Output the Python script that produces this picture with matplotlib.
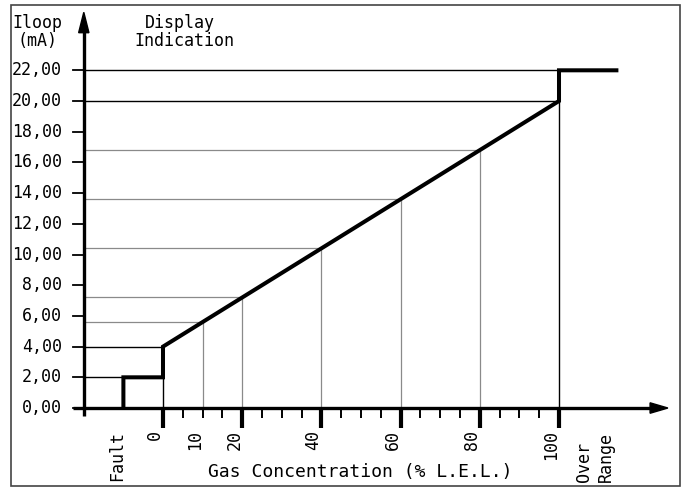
import matplotlib.pyplot as plt
from matplotlib.patches import Polygon, Rectangle

# transfer curve: gas concentration (% LEL) -> loop current (mA)
curve_pct = [-10, -10, 0, 0, 100, 100, 115]
curve_ma = [0, 2, 2, 4, 20, 22, 22]

# reference points on the linear part
ref_pct = [10, 20, 40, 60, 80]
ref_ma = [5.6, 7.2, 10.4, 13.6, 16.8]

y_ticks = [0, 2, 4, 6, 8, 10, 12, 14, 16, 18, 20, 22]
y_labels = ["0,00", "2,00", "4,00", "6,00", "8,00", "10,00", "12,00",
            "14,00", "16,00", "18,00", "20,00", "22,00"]
x_major = [0, 20, 40, 60, 80, 100]
x_minor = [5, 10, 15, 25, 30, 35, 45, 50, 55, 65, 70, 75, 85, 90, 95]
x_labels = {0: "0", 10: "10", 20: "20", 40: "40", 60: "60", 80: "80", 100: "100"}

FONT = "DejaVu Sans Mono"

fig = plt.figure(figsize=(6.86, 4.88), dpi=100)
ax = fig.add_axes([0, 0, 1, 1])
ax.set_xlim(-41.16, 132.07)
ax.set_ylim(-5.21, 26.58)
ax.axis("off")

# frame around picture
fig.patches.append(Rectangle((11 / 686, 2 / 488), 669 / 686, 481 / 488,
                             transform=fig.transFigure, fill=False,
                             edgecolor="#444444", lw=1.2))

yax = -20  # position of the vertical axis in % units

# horizontal guide lines
ax.plot([yax, 100], [22, 22], color="black", lw=1.0)
ax.plot([yax, 100], [20, 20], color="black", lw=1.0)
ax.plot([yax, 0], [4, 4], color="black", lw=1.0)
ax.plot([yax, -10], [2, 2], color="black", lw=1.0)
ax.plot([0, 0], [0, 2], color="black", lw=1.0)
ax.plot([100, 100], [0, 20], color="black", lw=1.0)
for p, m in zip(ref_pct, ref_ma):
    ax.plot([yax, p], [m, m], color="#8a8a8a", lw=0.9)
    ax.plot([p, p], [0, m], color="#8a8a8a", lw=0.9)

# main curve
ax.plot(curve_pct, curve_ma, color="black", lw=2.9, solid_joinstyle="miter",
        solid_capstyle="butt", zorder=5)

# axes
ax.plot([yax, yax], [-0.55, 24.6], color="black", lw=2.4, solid_capstyle="butt")
ax.plot([-22.8, 123.2], [0, 0], color="black", lw=2.4, solid_capstyle="butt")
ax.add_patch(Polygon([[yax, 25.78], [yax - 1.3, 24.45], [yax + 1.3, 24.45]],
                     closed=True, color="black"))
ax.add_patch(Polygon([[127.5, 0], [123.0, 0.34], [123.0, -0.34]],
                     closed=True, color="black"))

# y ticks + labels
for v, lab in zip(y_ticks, y_labels):
    ax.plot([-22.8, yax], [v, v], color="black", lw=1.3)
    ax.text(-25.5, v, lab, ha="right", va="center", fontsize=12, family=FONT)

# x ticks
for p in x_major:
    ax.plot([p, p], [0, -1.3], color="black", lw=3.0, solid_capstyle="butt")
for p in x_minor:
    ax.plot([p, p], [0, -0.65], color="black", lw=1.4, solid_capstyle="butt")

for p, lab in x_labels.items():
    ax.text(p - 2.0, -1.45, lab, rotation=90, ha="center", va="top",
            fontsize=12, family=FONT)
ax.text(-11.5, -1.5, "Fault", rotation=90, ha="center", va="top",
        fontsize=12, family=FONT)
ax.text(109.0, -4.85, "Over\nRange", rotation=90, ha="center", va="bottom",
        multialignment="left", fontsize=12, family=FONT, linespacing=1.25)

ax.text(49.7, -4.2, "Gas Concentration (% L.E.L.)", ha="center", va="center",
        fontsize=13, family=FONT)

# titles
ax.text(-31.6, 25.07, "Iloop", ha="center", va="center", fontsize=12, family=FONT)
ax.text(-31.6, 23.9, "(mA)", ha="center", va="center", fontsize=12, family=FONT)
ax.text(4.3, 25.07, "Display", ha="center", va="center", fontsize=12, family=FONT)
ax.text(5.3, 23.9, "Indication", ha="center", va="center", fontsize=12, family=FONT)

fig.savefig("out.png", dpi=100)
